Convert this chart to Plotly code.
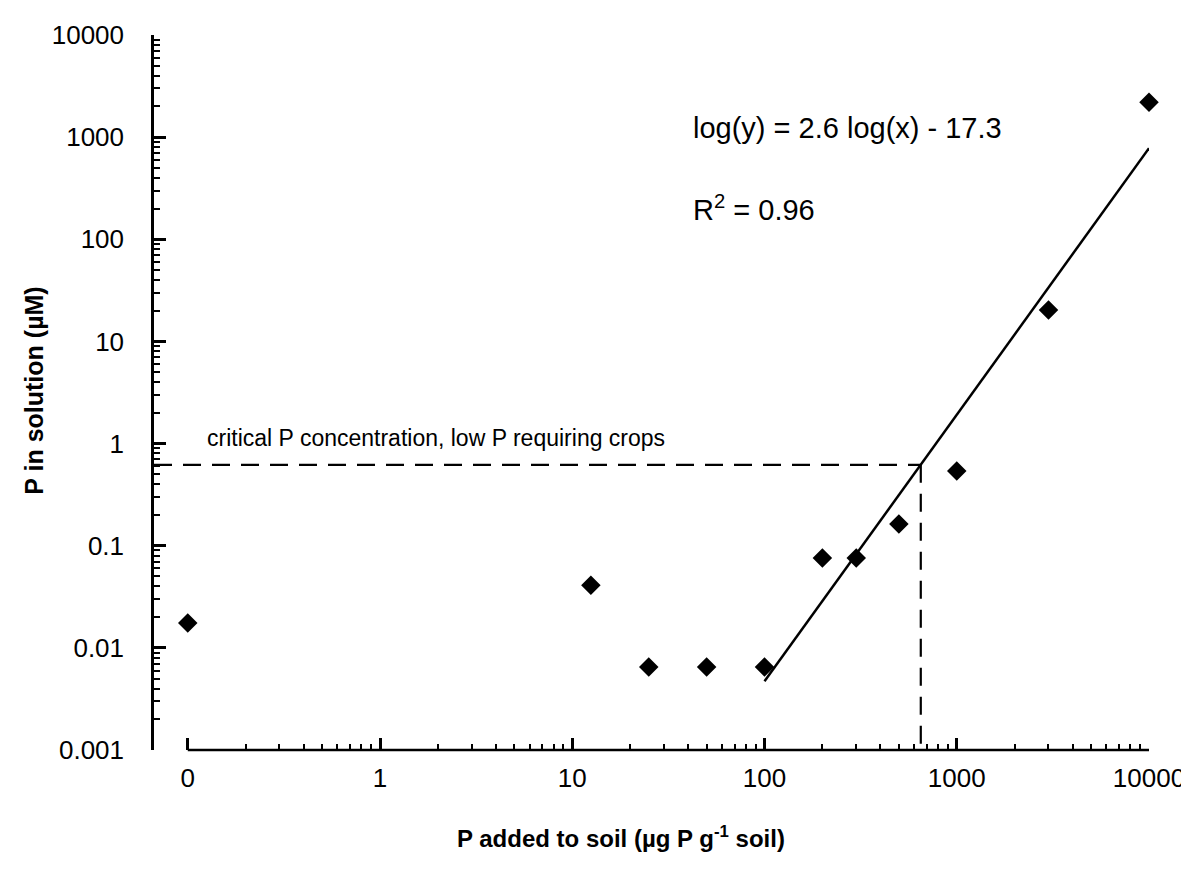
import plotly.graph_objects as go

# P added to soil (ug P g-1 soil); "0" is plotted at the 0.1 position on the log axis
p_added = [0.1, 12.5, 25, 50, 100, 200, 300, 500, 1000, 3000, 10000]
p_solution = [0.0175, 0.041, 0.0065, 0.0065, 0.0065, 0.076, 0.076, 0.163, 0.54, 20.3, 2200]

# regression line end points, log(y) = 2.6 log(x) - 17.3
fit_x = [100, 10000]
fit_y = [0.0047, 780]

# critical P concentration and the matching P addition
crit_y = 0.62
crit_x = 650

x_tickvals = [0.1, 1, 10, 100, 1000, 10000]
x_ticktext = ["0", "1", "10", "100", "1000", "10000"]
y_tickvals = [0.001, 0.01, 0.1, 1, 10, 100, 1000, 10000]
y_ticktext = ["0.001", "0.01", "0.1", "1", "10", "100", "1000", "10000"]

FONT = "Arial, Liberation Sans, sans-serif"
XR = [-1.1756, 4]          # log range; the left part is the gap before the "0" tick
YR = [-3, 4]

x_minor = [m * 10 ** e for e in range(-1, 4) for m in range(2, 10)]
y_minor = [m * 10 ** e for e in range(-3, 4) for m in range(2, 10)]

fig = go.Figure()

fig.add_trace(go.Scatter(
    x=fit_x, y=fit_y, mode="lines",
    line=dict(color="black", width=2.5),
    showlegend=False, hoverinfo="skip",
))
fig.add_trace(go.Scatter(
    x=p_added, y=p_solution, mode="markers",
    marker=dict(symbol="diamond", size=15, color="black"),
    cliponaxis=False, showlegend=False,
))

# x-axis line starts at the "0" tick, not at the y axis
fig.add_shape(type="line", xref="x", yref="y domain",
              x0=x_tickvals[0], x1=x_tickvals[-1], y0=0, y1=0,
              line=dict(color="black", width=2.5))
# dashed critical lines
fig.add_shape(type="line", xref="x", yref="y",
              x0=10 ** XR[0], x1=crit_x, y0=crit_y, y1=crit_y,
              line=dict(color="black", width=2.2, dash="18px,11px"))
fig.add_shape(type="line", xref="x", yref="y",
              x0=crit_x, x1=crit_x, y0=crit_y, y1=y_tickvals[0],
              line=dict(color="black", width=2.2, dash="18px,11px"))

fig.add_annotation(text="log(y) = 2.6 log(x) - 17.3", xref="paper", yref="paper",
                   x=0.54, y=0.870, xanchor="left", yanchor="middle", showarrow=False,
                   font=dict(size=29, color="black", family=FONT))
fig.add_annotation(text="R<sup>2</sup> = 0.96", xref="paper", yref="paper",
                   x=0.54, y=0.758, xanchor="left", yanchor="middle", showarrow=False,
                   font=dict(size=29, color="black", family=FONT))
fig.add_annotation(text="critical P concentration, low P requiring crops",
                   xref="paper", yref="paper", x=0.051, y=0.436,
                   xanchor="left", yanchor="middle", showarrow=False,
                   font=dict(size=23, color="black", family=FONT))
fig.add_annotation(text="<b>P added to soil (µg P g<sup>-1</sup> soil)</b>",
                   xref="paper", yref="paper", x=0.469, y=-0.122,
                   xanchor="center", yanchor="middle", showarrow=False,
                   font=dict(size=24, color="black", family=FONT))
fig.add_annotation(text="<b>P in solution (µM)</b>", textangle=-90,
                   xref="paper", yref="paper", x=-0.121, y=0.502,
                   xanchor="center", yanchor="middle", showarrow=False,
                   font=dict(size=25, color="black", family=FONT))

fig.update_layout(
    width=1189, height=869,
    margin=dict(l=146, r=46, t=27, b=127),
    plot_bgcolor="white", paper_bgcolor="white",
    font=dict(family=FONT, color="black"),
    xaxis=dict(
        type="log", range=XR, showgrid=False, zeroline=False, showline=False,
        tickmode="array", tickvals=x_tickvals, ticktext=x_ticktext,
        ticks="inside", ticklen=12, tickwidth=2.5, tickcolor="black",
        ticklabelstandoff=10, tickfont=dict(size=26),
        minor=dict(tickmode="array", tickvals=x_minor, ticks="inside",
                   ticklen=6, tickwidth=2, tickcolor="black", showgrid=False),
    ),
    yaxis=dict(
        type="log", range=YR, showgrid=False, zeroline=False,
        showline=True, linewidth=2.5, linecolor="black",
        tickmode="array", tickvals=y_tickvals, ticktext=y_ticktext,
        ticks="inside", ticklen=12, tickwidth=2.5, tickcolor="black",
        ticklabelstandoff=22, tickfont=dict(size=26),
        minor=dict(tickmode="array", tickvals=y_minor, ticks="inside",
                   ticklen=6, tickwidth=2, tickcolor="black", showgrid=False),
    ),
)

fig.write_html("out.html")
